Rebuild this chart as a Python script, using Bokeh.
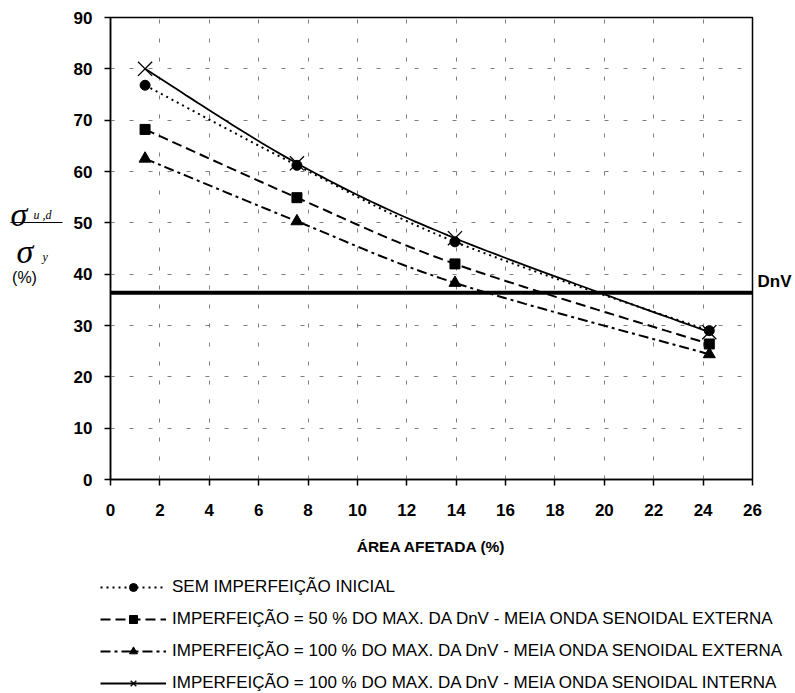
import numpy as np
from bokeh.plotting import figure
from bokeh.layouts import row, column
from bokeh.models import (Range1d, FixedTicker, Span, Legend, LegendItem, LinearAxis,
                          CustomJSTickFormatter)
from bokeh.embed import file_html
from bokeh.resources import INLINE
from bokeh.core.properties import value

# ---- data ----
area = [1.4, 7.55, 13.95, 24.25]
sem_imperf = [76.8, 61.2, 46.3, 29.0]
imperf50_ext = [68.2, 54.9, 42.0, 26.4]
imperf100_ext = [62.5, 50.3, 38.3, 24.4]
imperf100_int = [80.0, 61.6, 47.0, 28.7]
dnv_level = 36.4
x_ticks = list(range(0, 27, 2))
y_ticks = list(range(0, 91, 10))
labels = [
    "SEM IMPERFEIÇÃO INICIAL",
    "IMPERFEIÇÃO = 50 % DO MAX. DA DnV - MEIA ONDA SENOIDAL EXTERNA",
    "IMPERFEIÇÃO = 100 % DO MAX. DA DnV - MEIA ONDA SENOIDAL EXTERNA",
    "IMPERFEIÇÃO = 100 % DO MAX. DA DnV - MEIA ONDA SENOIDAL INTERNA",
]

FONT = "Liberation Sans"
SERIF = "Liberation Serif"
W, H = 795, 693
LEFT_W = 70
TOP_H = 565
FRAME_TOP, FRAME_BOTTOM = 17, 479

# line style / marker for each series
styles = [
    dict(dash="2 4", lw=2, marker="circle", size=10),
    dict(dash="10 5", lw=2, marker="square", size=10),
    dict(dash="10 4 3 4", lw=2, marker="triangle", size=12),
    dict(dash="solid", lw=1.8, marker="x", size=20),
]
series = [sem_imperf, imperf50_ext, imperf100_ext, imperf100_int]


def smooth(xs, ys, n=30):
    """Excel-like smoothed line (Catmull-Rom Bezier) through the data points."""
    P = np.column_stack([xs, ys]).astype(float)
    ext = np.vstack([P[0], P, P[-1]])
    out = []
    t = np.linspace(0, 1, n)[:, None]
    for i in range(len(P) - 1):
        p0, p1, p2, p3 = ext[i], ext[i + 1], ext[i + 2], ext[i + 3]
        c1 = p1 + (p2 - p0) / 6.0
        c2 = p2 - (p3 - p1) / 6.0
        seg = ((1 - t) ** 3) * p1 + 3 * ((1 - t) ** 2) * t * c1 + 3 * (1 - t) * t ** 2 * c2 + t ** 3 * p2
        out.append(seg if i == 0 else seg[1:])
    arr = np.vstack(out)
    return arr[:, 0], arr[:, 1]


def add_series(fig, xs, ys, sx, sy, st):
    lr = fig.line(sx, sy, line_color="black", line_width=st["lw"], line_dash=st["dash"])
    if st["marker"] == "x":
        mr = fig.scatter(xs, ys, marker="x", size=st["size"], line_color="black", line_width=1.3)
    else:
        mr = fig.scatter(xs, ys, marker=st["marker"], size=st["size"], fill_color="black",
                         line_color="black")
    return lr, mr


# ---------------- main chart ----------------
p = figure(width=W - LEFT_W, height=TOP_H, output_backend="svg", toolbar_location=None,
           x_range=Range1d(0, 26), y_range=Range1d(0, 90),
           min_border_left=108 - LEFT_W, min_border_right=W - 752, min_border_top=FRAME_TOP,
           min_border_bottom=TOP_H - FRAME_BOTTOM)
p.background_fill_color = "white"
p.border_fill_color = "white"
p.outline_line_color = "black"
p.outline_line_width = 1.5

for ax, ticks in ((p.xaxis, x_ticks), (p.yaxis, y_ticks)):
    ax.ticker = FixedTicker(ticks=ticks)
    ax.major_label_text_font = FONT
    ax.major_label_text_font_style = "bold"
    ax.major_label_text_font_size = "17px"
    ax.major_label_text_color = "black"
    ax.axis_line_color = "black"
    ax.axis_line_width = 1.5
    ax.major_tick_line_color = "black"
    ax.major_tick_line_width = 1.5
    ax.major_tick_in = 0
    ax.major_tick_out = 6
    ax.minor_tick_line_color = None
p.xaxis.major_label_standoff = 18
p.yaxis.major_label_standoff = 12
p.xaxis.axis_label = "ÁREA AFETADA (%)"
p.xaxis.axis_label_text_font = FONT
p.xaxis.axis_label_text_font_style = "bold"
p.xaxis.axis_label_text_font_size = "15.5px"
p.xaxis.axis_label_text_color = "black"
p.xaxis.axis_label_standoff = 19

for g in (p.xgrid, p.ygrid):
    g.grid_line_color = "#7f7f7f"
    g.grid_line_dash = "4 15"
    g.grid_line_width = 1

# DnV limit line and its label (a label-only axis on the right)
p.add_layout(Span(location=dnv_level, dimension="width", line_color="black", line_width=4))
dnv_axis = LinearAxis(ticker=FixedTicker(ticks=[dnv_level]),
                      formatter=CustomJSTickFormatter(code="return 'DnV\\n '"),
                      axis_line_color=None, major_tick_line_color=None,
                      minor_tick_line_color=None, major_tick_out=0, major_tick_in=0,
                      major_label_standoff=5, major_label_text_font=FONT,
                      major_label_text_font_style="bold", major_label_text_font_size="17px",
                      major_label_text_color="black")
p.add_layout(dnv_axis, "right")

for ys, st in zip(series, styles):
    sx, sy = smooth(area, ys)
    add_series(p, area, ys, sx, sy, st)

# ---------------- y-axis label (sigma_{u,d} / sigma_y, %) ----------------
# this strip's frame spans the same page rows as the chart frame (17..479)
pl = figure(width=LEFT_W, height=TOP_H, output_backend="svg", toolbar_location=None,
            x_range=Range1d(0, LEFT_W), y_range=Range1d(FRAME_BOTTOM, FRAME_TOP),
            x_axis_location=None, y_axis_location=None,
            min_border_left=0, min_border_right=0, min_border_top=FRAME_TOP,
            min_border_bottom=TOP_H - FRAME_BOTTOM)
pl.grid.visible = False
pl.outline_line_color = None
pl.background_fill_color = "white"
pl.border_fill_color = "white"

pl.text(x=[10, 16], y=[214, 251], text=["σ", "σ"], text_font=value(SERIF),
        text_font_style="italic", text_font_size="34px", text_baseline="alphabetic",
        text_color="black")
pl.text(x=[33, 42], y=[214, 256], text=["u ,d", "y"], text_font=value(SERIF),
        text_font_style="italic", text_font_size="12px", text_baseline="alphabetic",
        text_color="black")
pl.segment(x0=[10], y0=[222], x1=[62], y1=[222], line_color="black", line_width=1)
pl.text(x=[24], y=[277], text=["(%)"], text_font=value(FONT), text_font_size="16px",
        text_align="center", text_baseline="middle", text_color="black")

# ---------------- legend strip ----------------
LEG_H = H - TOP_H
# the series are drawn here out of view, only so the legend can show their styles
pg = figure(width=W, height=LEG_H, output_backend="svg", toolbar_location=None,
            x_range=Range1d(-1000, -1000 + W), y_range=Range1d(0, 90),
            x_axis_location=None, y_axis_location=None, min_border=0)
pg.grid.visible = False
pg.outline_line_color = None
pg.background_fill_color = "white"
pg.border_fill_color = "white"

items = []
for ys, st, lab in zip(series, styles, labels):
    lr, mr = add_series(pg, area, ys, area, ys, st)
    items.append(LegendItem(label=lab, renderers=[lr, mr]))

legend = Legend(items=items, location=(100, 0), orientation="vertical",
                glyph_width=66, glyph_height=20, label_height=20, spacing=12,
                padding=0, margin=0, label_standoff=6,
                border_line_alpha=0, background_fill_alpha=0,
                label_text_font=FONT, label_text_font_size="17px", label_text_color="black")
pg.add_layout(legend, "center")

layout = column(row(pl, p), pg)
open("out.html", "w").write(file_html(layout, INLINE))
